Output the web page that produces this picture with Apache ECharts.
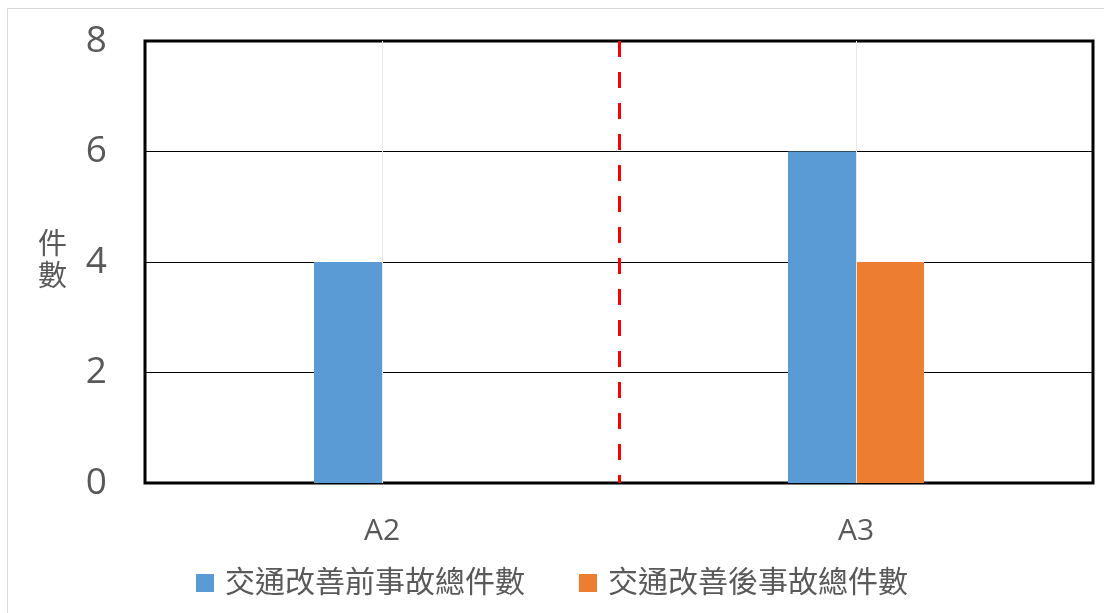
<!DOCTYPE html>
<html>
<head>
<meta charset="utf-8">
<script src="https://cdn.jsdelivr.net/npm/echarts@6/dist/echarts.min.js"></script>
<style>
html,body{margin:0;padding:0;background:#fff;overflow:hidden;}
#frame{position:absolute;left:7px;top:8px;width:1120px;height:640px;border:1px solid #d9d9d9;box-sizing:border-box;}
#chart{position:absolute;left:0;top:0;width:1104px;height:613px;}
</style>
</head>
<body>
<div id="frame"></div>
<div id="chart"></div>
<script>
const categories = ['A2', 'A3'];
const seriesNames = ['交通改善前事故總件數', '交通改善後事故總件數'];
const beforeValues = [4, 6];
const afterValues = [0, 4];
const yTicks = [0, 2, 4, 6, 8];
const axisName = '件\n數';

const font = '"Open Sans", "Noto Sans CJK TC", sans-serif';
const gray = '#595959';

const chart = echarts.init(document.getElementById('chart'), null, {renderer: 'canvas'});
chart.setOption({
  animation: false,
  textStyle: {fontFamily: font},
  grid: {left: 145, right: 11, top: 41, bottom: 130, show: true, borderColor: '#000', borderWidth: 3, containLabel: false},
  legend: {
    bottom: 10, left: 'center',
    itemWidth: 18, itemHeight: 18, itemGap: 54,
    icon: 'rect',
    textStyle: {fontSize: 30, color: gray, fontFamily: font, padding: [0, 0, 0, 6]},
    data: seriesNames
  },
  xAxis: [{
    type: 'category', data: categories,
    axisLine: {show: false}, axisTick: {show: false},
    axisLabel: {fontSize: 30, color: gray, margin: 33},
    splitLine: {show: false}
  }, {
    type: 'value', min: 0, max: categories.length, show: false
  }],
  yAxis: {
    type: 'value', min: yTicks[0], max: yTicks[yTicks.length - 1], interval: 2,
    axisLine: {show: false}, axisTick: {show: false},
    axisLabel: {fontSize: 37, color: gray, margin: 38},
    splitLine: {show: true, lineStyle: {color: '#000', width: 1}},
    name: axisName, nameLocation: 'middle', nameRotate: 0, nameGap: 78,
    nameTextStyle: {fontSize: 29, color: gray, lineHeight: 32, fontFamily: font}
  },
  series: [{
    type: 'line', xAxisIndex: 1, data: [], z: 1, silent: true,
    markLine: {
      symbol: 'none', silent: true, label: {show: false},
      lineStyle: {color: '#e8e8e8', width: 1, type: 'solid'},
      data: [
        [{coord: [0.5, 8]}, {coord: [0.5, 0]}],
        [{coord: [1.5, 8]}, {coord: [1.5, 0]}]
      ]
    }
  }, {
    name: seriesNames[0], type: 'bar', data: beforeValues, barWidth: 68, barGap: '0%',
    itemStyle: {color: '#5B9BD5'}, z: 3
  }, {
    name: seriesNames[1], type: 'bar', data: afterValues, barWidth: 68, barGap: '0%',
    itemStyle: {color: '#ED7D31'}, z: 3
  }, {
    type: 'line', xAxisIndex: 1, data: [], z: 5, silent: true,
    markLine: {
      symbol: 'none', silent: true, label: {show: false},
      lineStyle: {color: '#FF0000', width: 3, type: [16, 15]},
      data: [[{coord: [1, 8]}, {coord: [1, 0]}]]
    }
  }]
});
</script>
</body>
</html>
